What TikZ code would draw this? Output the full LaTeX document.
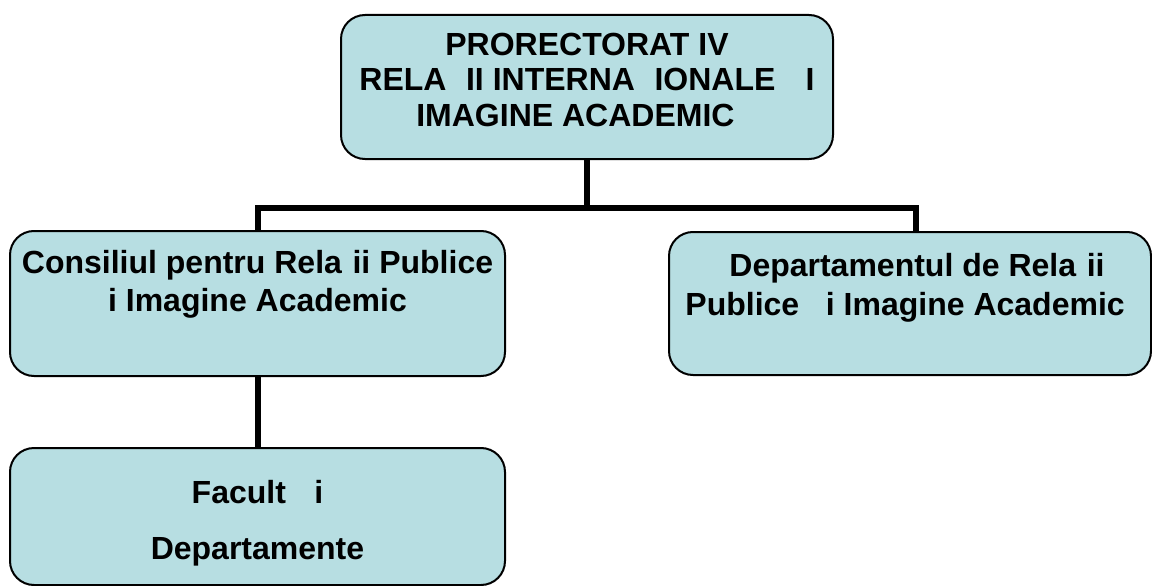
\documentclass[tikz,border=0pt]{standalone}
\usepackage{fontspec}
\setmainfont{Liberation Sans}
\definecolor{boxfill}{RGB}{183,222,226}
\begin{document}
\begin{tikzpicture}[x=1pt,y=-1pt,
  box/.style={draw=black, line width=2pt, fill=boxfill, rounded corners=24pt, inner sep=0pt},
  txt/.style={font=\fontsize{32}{36}\selectfont\bfseries, inner sep=0pt, anchor=base},
  conn/.style={draw=black, line width=6pt, line join=miter}]
\useasboundingbox (0,0) rectangle (1152,586);
% boxes
\node[box, minimum width=492pt, minimum height=144pt] (top) at (587,87) {};
\node[box, minimum width=495pt, minimum height=145pt] (left) at (257.5,303.5) {};
\node[box, minimum width=482pt, minimum height=143pt] (right) at (910,303.5) {};
\node[box, minimum width=495pt, minimum height=137pt] (bot) at (257.5,516.5) {};
% texts
\node[txt] (t1) at (587,56) {PRORECTORAT IV};
\node[txt] (t2) at (587,91) {RELA\phantom{Ţ}II INTERNA\phantom{Ţ}IONALE \phantom{Ş}I};
\node[txt] (t3) at (587,126) {IMAGINE ACADEMIC\phantom{Ă}};
\node[txt] (l1) at (257.5,273) {Consiliul pentru Rela\phantom{ţ}ii Publice};
\node[txt] (l2) at (257.5,311) {\phantom{ş}i Imagine Academic\phantom{ă}};
\node[txt] (r1) at (917,276) {Departamentul de Rela\phantom{ţ}ii};
\node[txt] (r2) at (914,315) {Publice \phantom{ş}i Imagine Academic\phantom{ă}};
\node[txt] (b1) at (257.5,503) {Facult\phantom{ăţ}i};
\node[txt] (b2) at (257.5,559) {Departamente};
% connectors
\coordinate (j) at (587,208);
\draw[conn] (top.south) -- (j);
\draw[conn] (left.north) |- (j) -| ([xshift=6pt]right.north);
\draw[conn] (left.south) -- (bot.north);
\end{tikzpicture}
\end{document}
